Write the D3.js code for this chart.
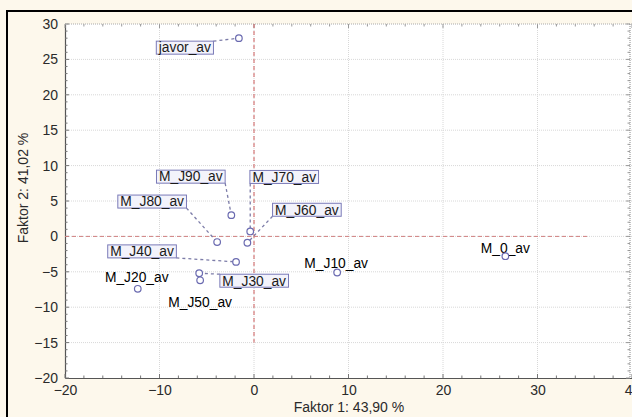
<!DOCTYPE html>
<html><head><meta charset="utf-8">
<script src="https://cdn.jsdelivr.net/npm/d3@7"></script>
<style>
html,body{margin:0;padding:0;background:#fdf8ec;}
svg{display:block;font-family:"Liberation Sans",Arial,sans-serif;}
</style></head>
<body><svg id="c" width="632" height="417"></svg>
<script>
// ---- data ----
const names   = ["javor_av","M_J90_av","M_J70_av","M_J60_av","M_J80_av","M_J40_av","M_J30_av","M_J50_av","M_J20_av","M_J10_av","M_0_av"];
const factor1 = [-1.6,-2.4,-0.4,-0.7,-3.9,-1.9,-5.8,-5.7,-12.3,8.8,26.6];
const factor2 = [28.0,3.0,0.7,-0.9,-0.8,-3.6,-5.2,-6.2,-7.4,-5.1,-2.8];
const boxed   = [true,true,true,true,true,true,true,false,false,false,false];
const xTicks  = [-20,-10,0,10,20,30,40];
const yTicks  = [-20,-15,-10,-5,0,5,10,15,20,25,30];
const xTitle  = "Faktor 1: 43,90 %";
const yTitle  = "Faktor 2: 41,02 %";

// ---- layout (label centre offsets in px from each point) ----
const labelOffsets = [[-54,9.5],[-40.5,-38.5],[34,-54.5],[59.5,-33],[-65,-40.5],[-94,-10.5],[55,7.5],[0,22],[-1,-12],[-1,-9],[0,-8]];

const svg = d3.select("#c");
const L=65, R=632, T=24, B=378;
const x = d3.scaleLinear().domain([-20,40]).range([L,R]);
const y = d3.scaleLinear().domain([-20,30]).range([B,T]);

// outer black frame
svg.append("rect").attr("x",7).attr("y",11).attr("width",640).attr("height",420)
  .attr("fill","#fdf8ec").attr("stroke","#000").attr("stroke-width",2);
// plot area
svg.append("rect").attr("x",L).attr("y",T).attr("width",R-L).attr("height",B-T).attr("fill","#fff");

// grid
const g = svg.append("g");
g.selectAll(".gx").data(xTicks.slice(1,-1)).join("line")
  .attr("x1",d=>x(d)).attr("x2",d=>x(d)).attr("y1",T).attr("y2",B)
  .attr("stroke","#d8d8d8").attr("stroke-dasharray","1,1");
g.selectAll(".gy").data(yTicks.slice(1,-1)).join("line")
  .attr("y1",d=>y(d)).attr("y2",d=>y(d)).attr("x1",L).attr("x2",R)
  .attr("stroke","#d8d8d8").attr("stroke-dasharray","1,1");

// axes (ticks inward)
const axB = d3.axisBottom(x).tickValues(xTicks).tickSize(0).tickPadding(7);
const axL = d3.axisLeft(y).tickValues(yTicks).tickSize(0).tickPadding(7);
const gb = svg.append("g").attr("transform",`translate(0,${B})`).call(axB);
const gl = svg.append("g").attr("transform",`translate(${L},0)`).call(axL);
[gb,gl].forEach(a=>{
  a.select(".domain").attr("stroke","#555").attr("stroke-width",1.2);
  a.selectAll("text").attr("font-size",14).attr("fill","#2a2a2a").attr("font-family","Liberation Sans, Arial, sans-serif");
});
// minor ticks
const xMinor = d3.range(-20,40.01,2), yMinor = d3.range(-20,30.01,1);
svg.append("g").selectAll("line").data(xMinor).join("line")
  .attr("x1",d=>x(d)).attr("x2",d=>x(d)).attr("y1",B).attr("y2",d=>B-(d%10===0?4:2.5)).attr("stroke","#777");
svg.append("g").selectAll("line").data(xMinor).join("line")
  .attr("x1",d=>x(d)).attr("x2",d=>x(d)).attr("y1",T).attr("y2",d=>T+(d%10===0?4:2.5)).attr("stroke","#999");
svg.append("g").selectAll("line").data(yMinor).join("line")
  .attr("y1",d=>y(d)).attr("y2",d=>y(d)).attr("x1",L).attr("x2",d=>L+(d%5===0?4:2.5)).attr("stroke","#777");
svg.append("g").selectAll("line").data(yMinor).join("line")
  .attr("y1",d=>y(d)).attr("y2",d=>y(d)).attr("x1",R-2).attr("x2",d=>R-2-(d%5===0?4:2.5)).attr("stroke","#999");
svg.append("line").attr("x1",L).attr("x2",R).attr("y1",T).attr("y2",T).attr("stroke","#aaa").attr("stroke-dasharray","1,1");
svg.append("line").attr("x1",R-2).attr("x2",R-2).attr("y1",T).attr("y2",B).attr("stroke","#888").attr("stroke-dasharray","1,1");

// reference lines
svg.append("line").attr("x1",x(0)).attr("x2",x(0)).attr("y1",y(30)).attr("y2",y(-15))
  .attr("stroke","#d06060").attr("stroke-dasharray","4,3");
svg.append("line").attr("x1",x(-20)).attr("x2",x(35.3)).attr("y1",y(0)).attr("y2",y(0))
  .attr("stroke","#d08080").attr("stroke-dasharray","4,3");

// titles
svg.append("text").attr("x",349).attr("y",412).attr("text-anchor","middle")
  .attr("font-size",14).attr("fill","#2a2a2a").text(xTitle);
svg.append("text").attr("transform","translate(28,188) rotate(-90)").attr("text-anchor","middle")
  .attr("font-size",14).attr("fill","#2a2a2a").text(yTitle);

// labels & leaders
const pts = names.map((n,i)=>({n, px:x(factor1[i]), py:y(factor2[i]), boxed:boxed[i], off:labelOffsets[i]}));
const lg = svg.append("g");
pts.forEach(p=>{
  const cx=p.px+p.off[0], cy=p.py+p.off[1];
  const t = lg.append("text").attr("x",cx).attr("y",cy+4.8).attr("text-anchor","middle")
    .attr("font-size",13.8).attr("fill",p.boxed?"#1a1a1a":"#000").text(p.n);
  if(p.boxed){
    const w=t.node().getComputedTextLength()+5, h=13;
    const bx=cx-w/2, by=cy-h/2;
    lg.insert("rect","text").attr("x",bx).attr("y",by).attr("width",w).attr("height",h)
      .attr("fill","#f3f3fb").attr("stroke","#7a7ab8").attr("stroke-width",1);
    const lx=Math.max(bx,Math.min(bx+w,p.px)), ly=Math.max(by,Math.min(by+h,p.py));
    lg.insert("line","rect").attr("x1",lx).attr("y1",ly).attr("x2",p.px).attr("y2",p.py)
      .attr("stroke","#7c7ca8").attr("stroke-width",1.3).attr("stroke-dasharray","3,3");
  }
});
// points
svg.append("g").selectAll("circle").data(pts).join("circle")
  .attr("cx",d=>d.px).attr("cy",d=>d.py).attr("r",3.3)
  .attr("fill","#fff").attr("stroke","#6a6ab0").attr("stroke-width",1.2);
</script></body></html>
